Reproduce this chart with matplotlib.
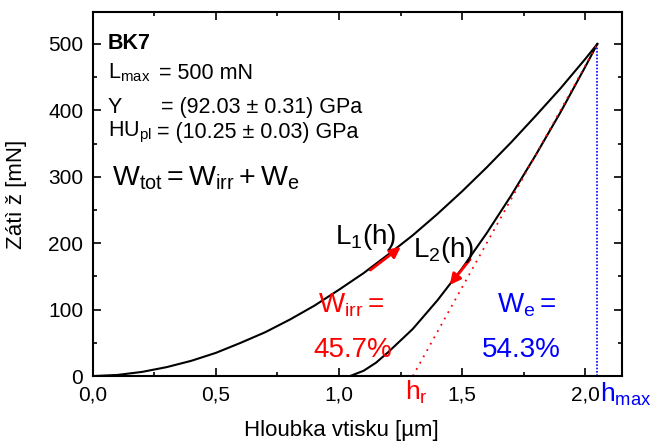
import matplotlib
matplotlib.use("Agg")
import matplotlib.pyplot as plt
from matplotlib.ticker import MultipleLocator, FuncFormatter

plt.rcParams['font.family'] = ['Liberation Sans', 'DejaVu Sans']
plt.rcParams['mathtext.fontset'] = 'custom'
plt.rcParams['mathtext.rm'] = 'Liberation Sans'
plt.rcParams['mathtext.it'] = 'Liberation Sans'
plt.rcParams['mathtext.bf'] = 'Liberation Sans:bold'

# zatezovaci krivka L1(h)
h_load = [0.0, 0.1, 0.2, 0.3, 0.4, 0.5, 0.6, 0.7, 0.8, 0.9, 1.0, 1.1,
          1.2, 1.3, 1.4, 1.5, 1.6, 1.7, 1.8, 1.9, 2.0, 2.05]
L_load = [0, 1.7, 6.3, 13.5, 23, 35, 50, 66, 85, 106, 130, 155,
          183, 212, 244, 278, 314, 352, 392, 433, 477, 500]

# odlehcovaci krivka L2(h)
h_unload = [1.045, 1.1, 1.15, 1.2, 1.3, 1.4, 1.5, 1.6, 1.7, 1.8, 1.9, 2.0, 2.05]
L_unload = [0, 8, 20, 36, 71, 114, 162, 215, 272, 333, 397, 465, 500]

# tecna a h_max
h_tan = [1.30, 2.05]
L_tan = [0, 500]
h_max = 2.05
L_max_line = 495

#---------------------------/ Graphics /--------------------------

fig = plt.figure(figsize=(6.52, 4.44), dpi=100)
ax = fig.add_axes([0.1426, 0.153, 0.8113, 0.8198])

ax.plot(h_load, L_load, color='black', lw=1.5)
ax.plot(h_unload, L_unload, color='black', lw=1.5)
ax.plot(h_tan, L_tan, color='red', lw=1.3, linestyle=(0, (1, 3)))
ax.plot([h_max, h_max], [0, L_max_line], color='blue', lw=1.2, linestyle=(0, (1, 1)))

# sipky
ax.annotate('', xy=(1.26, 197), xytext=(1.118, 157),
            arrowprops=dict(arrowstyle='-|>', color='red', lw=2, mutation_scale=16))
ax.annotate('', xy=(1.443, 134), xytext=(1.54, 179),
            arrowprops=dict(arrowstyle='-|>', color='red', lw=2, mutation_scale=16))

ax.set_xlim(0, 2.15)
ax.set_ylim(0, 548)

ax.xaxis.set_major_locator(MultipleLocator(0.5))
ax.xaxis.set_minor_locator(MultipleLocator(0.25))
ax.yaxis.set_major_locator(MultipleLocator(100))
ax.yaxis.set_minor_locator(MultipleLocator(50))
ax.xaxis.set_major_formatter(FuncFormatter(lambda v, p: f'{v:.1f}'.replace('.', ',')))

ax.tick_params(which='both', direction='in', top=True, right=True, labelsize=15, width=1.2)
ax.tick_params(which='major', length=6)
ax.tick_params(which='minor', length=3)
ax.tick_params(axis='x', pad=7)
ax.tick_params(axis='y', pad=7)
for s in ax.spines.values():
    s.set_linewidth(1.5)

ax.set_xlabel('Hloubka vtisku [µm]', fontsize=16)
ax.set_ylabel('Zátì ž [mN]', fontsize=16)
ax.xaxis.set_label_coords(0.47, -0.12)
ax.yaxis.set_label_coords(-0.125, 0.5)

# popisky vlevo nahore
fs = 15.5
ax.text(0.061, 500, 'BK7', fontsize=fs, fontweight='bold', va='center')
ax.text(0.061, 456, r'$\mathregular{L_{max}}$', fontsize=fs, va='center')
ax.text(0.270, 456, '= 500 mN', fontsize=fs, va='center')
ax.text(0.061, 405, 'Y', fontsize=fs, va='center')
ax.text(0.275, 405, '= (92.03 ± 0.31) GPa', fontsize=fs, va='center')
ax.text(0.061, 367, r'$\mathregular{HU_{pl}}$', fontsize=fs, va='center')
ax.text(0.262, 367, '= (10.25 ± 0.03) GPa', fontsize=fs, va='center')
ax.text(0.077, 298, r'$\mathregular{W_{tot} = W_{irr} + W_{e}}$', fontsize=20.5, va='center')

ax.text(0.984, 210, r'$\mathregular{L_1(h)}$', fontsize=20, va='center')
ax.text(1.30, 190, r'$\mathregular{L_2(h)}$', fontsize=20, va='center')

ax.text(0.915, 107, r'$\mathregular{W_{irr}=}$', fontsize=20, va='center', color='red')
ax.text(0.894, 39, '45.7%', fontsize=20, va='center', color='red')
ax.text(1.642, 107, r'$\mathregular{W_e=}$', fontsize=20, va='center', color='blue')
ax.text(1.581, 39, '54.3%', fontsize=20, va='center', color='blue')

ax.text(1.268, -25, r'$\mathregular{h_r}$', fontsize=19, va='center', color='red', clip_on=False)
ax.text(2.061, -27, r'$\mathregular{h_{max}}$', fontsize=19, va='center', color='blue', clip_on=False)

fig.savefig('out.png', dpi=100)
